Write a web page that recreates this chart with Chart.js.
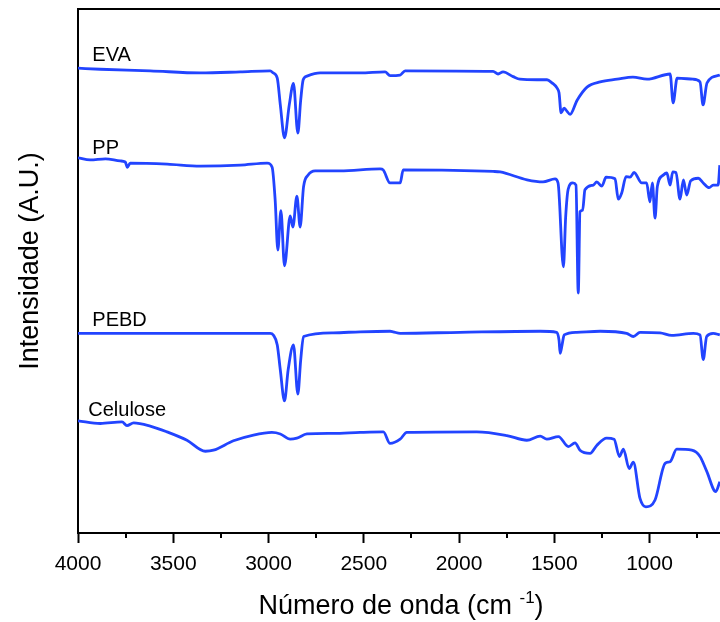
<!DOCTYPE html>
<html>
<head>
<meta charset="utf-8">
<script src="https://cdn.jsdelivr.net/npm/chart.js@4"></script>
<style>
  html, body { margin: 0; padding: 0; background: #fff; }
</style>
</head>
<body>
<canvas id="ftirChart" width="720" height="622"></canvas>
<script>
// Wavenumbers (cm-1) and intensities (a.u., offset per sample)
const seriesNames = ["EVA", "PP", "PEBD", "Celulose"];

const evaWn = [4000, 3883, 3621, 3358, 3148, 2991, 2975, 2954, 2938, 2916,
  2891, 2869, 2846, 2831, 2818, 2798, 2729, 2519, 2388, 2362,
  2309, 2283, 1821, 1795, 1769, 1716, 1680, 1590, 1538, 1512,
  1485, 1475, 1464, 1448, 1438, 1417, 1380, 1328, 1259, 1170,
  1087, 1013, 892, 876, 855, 772, 735, 719, 698, 631];
const evaVal = [88.7, 88.5, 88.2, 87.8, 88.0, 88.2, 87.8, 86.8, 81.7, 75.4,
  81.7, 85.8, 76.3, 82.6, 86.5, 87.2, 87.8, 87.8, 88.0, 87.3,
  87.4, 88.2, 88.1, 87.6, 88.0, 87.1, 86.6, 86.5, 86.5, 85.9,
  84.9, 84.0, 80.2, 81.1, 80.7, 79.9, 82.6, 85.1, 86.1, 86.6,
  87.0, 86.6, 87.6, 82.1, 86.8, 86.6, 86.1, 81.7, 85.9, 87.4];

const ppWn = [4000, 3936, 3856, 3778, 3752, 3741, 3726, 3531, 3358, 3148,
  3007, 2981, 2965, 2951, 2935, 2916, 2886, 2872, 2851, 2834,
  2816, 2792, 2755, 2624, 2414, 2398, 2362, 2309, 2293, 1821,
  1784, 1643, 1559, 1496, 1480, 1452, 1440, 1427, 1403, 1386,
  1374, 1365, 1351, 1339, 1295, 1277, 1250, 1228, 1181, 1164,
  1146, 1123, 1102, 1081, 1041, 1015, 998, 985, 971, 959,
  928, 909, 892, 878, 861, 840, 822, 805, 784, 744,
  718, 687, 666, 640, 631];
const ppVal = [71.6, 71.2, 71.4, 71.0, 70.8, 69.8, 70.6, 70.4, 70.0, 70.2,
  70.6, 69.8, 63.5, 54.0, 61.5, 51.0, 60.5, 58.4, 64.3, 58.4,
  66.1, 68.3, 69.1, 69.1, 69.5, 69.3, 66.8, 66.8, 69.3, 69.0,
  68.9, 67.4, 67.0, 67.6, 66.8, 50.8, 60.4, 65.6, 66.8, 66.4,
  45.8, 61.3, 61.6, 65.5, 66.4, 67.0, 66.2, 67.9, 67.6, 63.7,
  64.9, 68.0, 67.9, 68.8, 66.8, 66.8, 63.2, 66.8, 60.1, 66.1,
  68.3, 68.7, 66.4, 68.9, 68.8, 63.7, 67.4, 64.5, 67.2, 67.7,
  66.8, 65.9, 66.4, 66.4, 70.2];

const pebdWn = [4000, 2991, 2975, 2954, 2938, 2916, 2897, 2869, 2846, 2831,
  2816, 2661, 2519, 2362, 2346, 2309, 1994, 1574, 1487, 1475,
  1469, 1459, 1448, 1382, 1259, 1120, 1085, 1050, 945, 883,
  770, 735, 718, 700, 666, 631];
const pebdVal = [38.1, 38.1, 37.8, 35.9, 31.1, 25.2, 31.1, 35.9, 26.5, 33.0,
  37.5, 38.2, 38.4, 38.5, 38.4, 38.1, 38.3, 38.5, 38.3, 36.8,
  34.3, 35.9, 37.8, 38.3, 38.5, 38.1, 37.5, 38.3, 38.2, 37.7,
  38.1, 37.8, 33.1, 37.5, 38.1, 37.8];

const celWn = [4000, 3883, 3769, 3743, 3708, 3621, 3533, 3428, 3332, 3289,
  3184, 3079, 2982, 2938, 2886, 2851, 2798, 2661, 2519, 2397,
  2362, 2309, 2274, 1907, 1749, 1644, 1574, 1539, 1478, 1426,
  1391, 1365, 1312, 1277, 1225, 1186, 1158, 1137, 1107, 1085,
  1050, 1019, 971, 918, 892, 857, 778, 735, 700, 652,
  631];
const celVal = [21.4, 20.9, 21.2, 20.5, 21.0, 20.4, 19.3, 17.7, 15.6, 15.8,
  17.6, 18.7, 19.2, 18.9, 17.9, 18.1, 18.9, 19.0, 19.2, 19.3,
  17.1, 17.9, 19.2, 19.3, 18.6, 17.7, 18.5, 17.9, 18.4, 16.5,
  17.2, 15.8, 15.2, 16.7, 18.1, 17.9, 14.6, 16.0, 12.3, 13.5,
  6.6, 5.0, 6.3, 13.3, 13.6, 16.0, 15.8, 14.6, 11.8, 7.9,
  9.8];

const xTicks = [1000, 1500, 2000, 2500, 3000, 3500, 4000];
const xMinorTicks = [750, 1250, 1750, 2250, 2750, 3250, 3750];

const fontFamily = "'Liberation Sans', Arial, Helvetica, sans-serif";
const lineColor = "#2244ff";

const toPoints = (wn, val) => wn.map((w, i) => ({ x: w, y: val[i] }));

const allSeries = [
  toPoints(evaWn, evaVal),
  toPoints(ppWn, ppVal),
  toPoints(pebdWn, pebdVal),
  toPoints(celWn, celVal),
];

// sample names above each trace, minor ticks, axis titles (x one has a superscript)
const decorPlugin = {
  id: "decor",
  afterDatasetsDraw(chart) {
    const { ctx, scales: { x, y } } = chart;
    const labelWn = [3925, 3925, 3925, 3946];
    const labelLift = [7, 4, 7, 5];
    ctx.save();
    ctx.fillStyle = "#000";
    ctx.font = "20px " + fontFamily;
    ctx.textAlign = "left";
    ctx.textBaseline = "alphabetic";
    chart.data.datasets.forEach((ds, i) => {
      const px = x.getPixelForValue(labelWn[i]);
      const py = y.getPixelForValue(ds.data[0].y) - labelLift[i];
      ctx.fillText(ds.label, px, py);
    });
    ctx.restore();
  },
  afterDraw(chart) {
    const { ctx, scales: { x }, chartArea } = chart;
    ctx.save();
    ctx.strokeStyle = "#000";
    ctx.lineWidth = 2;
    xMinorTicks.forEach((v) => {
      const px = Math.round(x.getPixelForValue(v));
      ctx.beginPath();
      ctx.moveTo(px, chartArea.bottom);
      ctx.lineTo(px, chartArea.bottom + 5);
      ctx.stroke();
    });

    // x title
    const main = "Número de onda (cm ";
    const sup = "-1";
    const close = ")";
    ctx.fillStyle = "#000";
    ctx.textBaseline = "alphabetic";
    ctx.textAlign = "left";
    ctx.font = "27px " + fontFamily;
    const wMain = ctx.measureText(main).width;
    const wClose = ctx.measureText(close).width;
    ctx.font = "17px " + fontFamily;
    const wSup = ctx.measureText(sup).width;
    const total = wMain + wSup + wClose;
    let tx = 401 - total / 2;
    const base = 614;
    ctx.font = "27px " + fontFamily;
    ctx.fillText(main, tx, base);
    tx += wMain;
    ctx.font = "17px " + fontFamily;
    ctx.fillText(sup, tx, base - 11);
    tx += wSup;
    ctx.font = "27px " + fontFamily;
    ctx.fillText(close, tx, base);

    // y title
    ctx.translate(31, 261);
    ctx.rotate(-Math.PI / 2);
    ctx.textAlign = "center";
    ctx.textBaseline = "middle";
    ctx.font = "27px " + fontFamily;
    ctx.fillText("Intensidade (A.U.)", 0, 0);
    ctx.restore();
  },
};

const ctx = document.getElementById("ftirChart").getContext("2d");
new Chart(ctx, {
  type: "line",
  data: {
    datasets: allSeries.map((pts, i) => ({
      label: seriesNames[i],
      data: pts,
      borderColor: lineColor,
      borderWidth: 2.8,
      pointRadius: 0,
      cubicInterpolationMode: "monotone",
      fill: false,
    })),
  },
  options: {
    responsive: false,
    animation: false,
    layout: { padding: 0 },
    plugins: {
      legend: { display: false },
      tooltip: { enabled: false },
    },
    scales: {
      x: {
        type: "linear",
        position: "bottom",
        reverse: true,
        min: 630,
        max: 4000,
        afterBuildTicks: (s) => { s.ticks = xTicks.map((v) => ({ value: v })); },
        afterFit: (s) => { s.height = 89; s.paddingLeft = 0; s.paddingRight = 0; },
        ticks: {
          autoSkip: false,
          maxRotation: 0,
          color: "#000",
          padding: 9,
          font: { size: 21, family: fontFamily },
          callback: (v) => String(v),
        },
        grid: {
          drawOnChartArea: false,
          drawTicks: true,
          tickLength: 10,
          tickWidth: 2,
          tickColor: "#000",
        },
        border: { display: true, color: "#000", width: 2 },
      },
      xTop: {
        type: "linear",
        position: "top",
        reverse: true,
        min: 630,
        max: 4000,
        afterFit: (s) => { s.height = 9; },
        ticks: { display: false },
        grid: { display: false },
        border: { display: true, color: "#000", width: 2 },
      },
      y: {
        type: "linear",
        min: 0,
        max: 100,
        afterFit: (s) => { s.width = 78; },
        ticks: { display: false },
        grid: { display: false },
        border: { display: true, color: "#000", width: 2 },
      },
    },
  },
  plugins: [decorPlugin],
});
</script>
</body>
</html>
